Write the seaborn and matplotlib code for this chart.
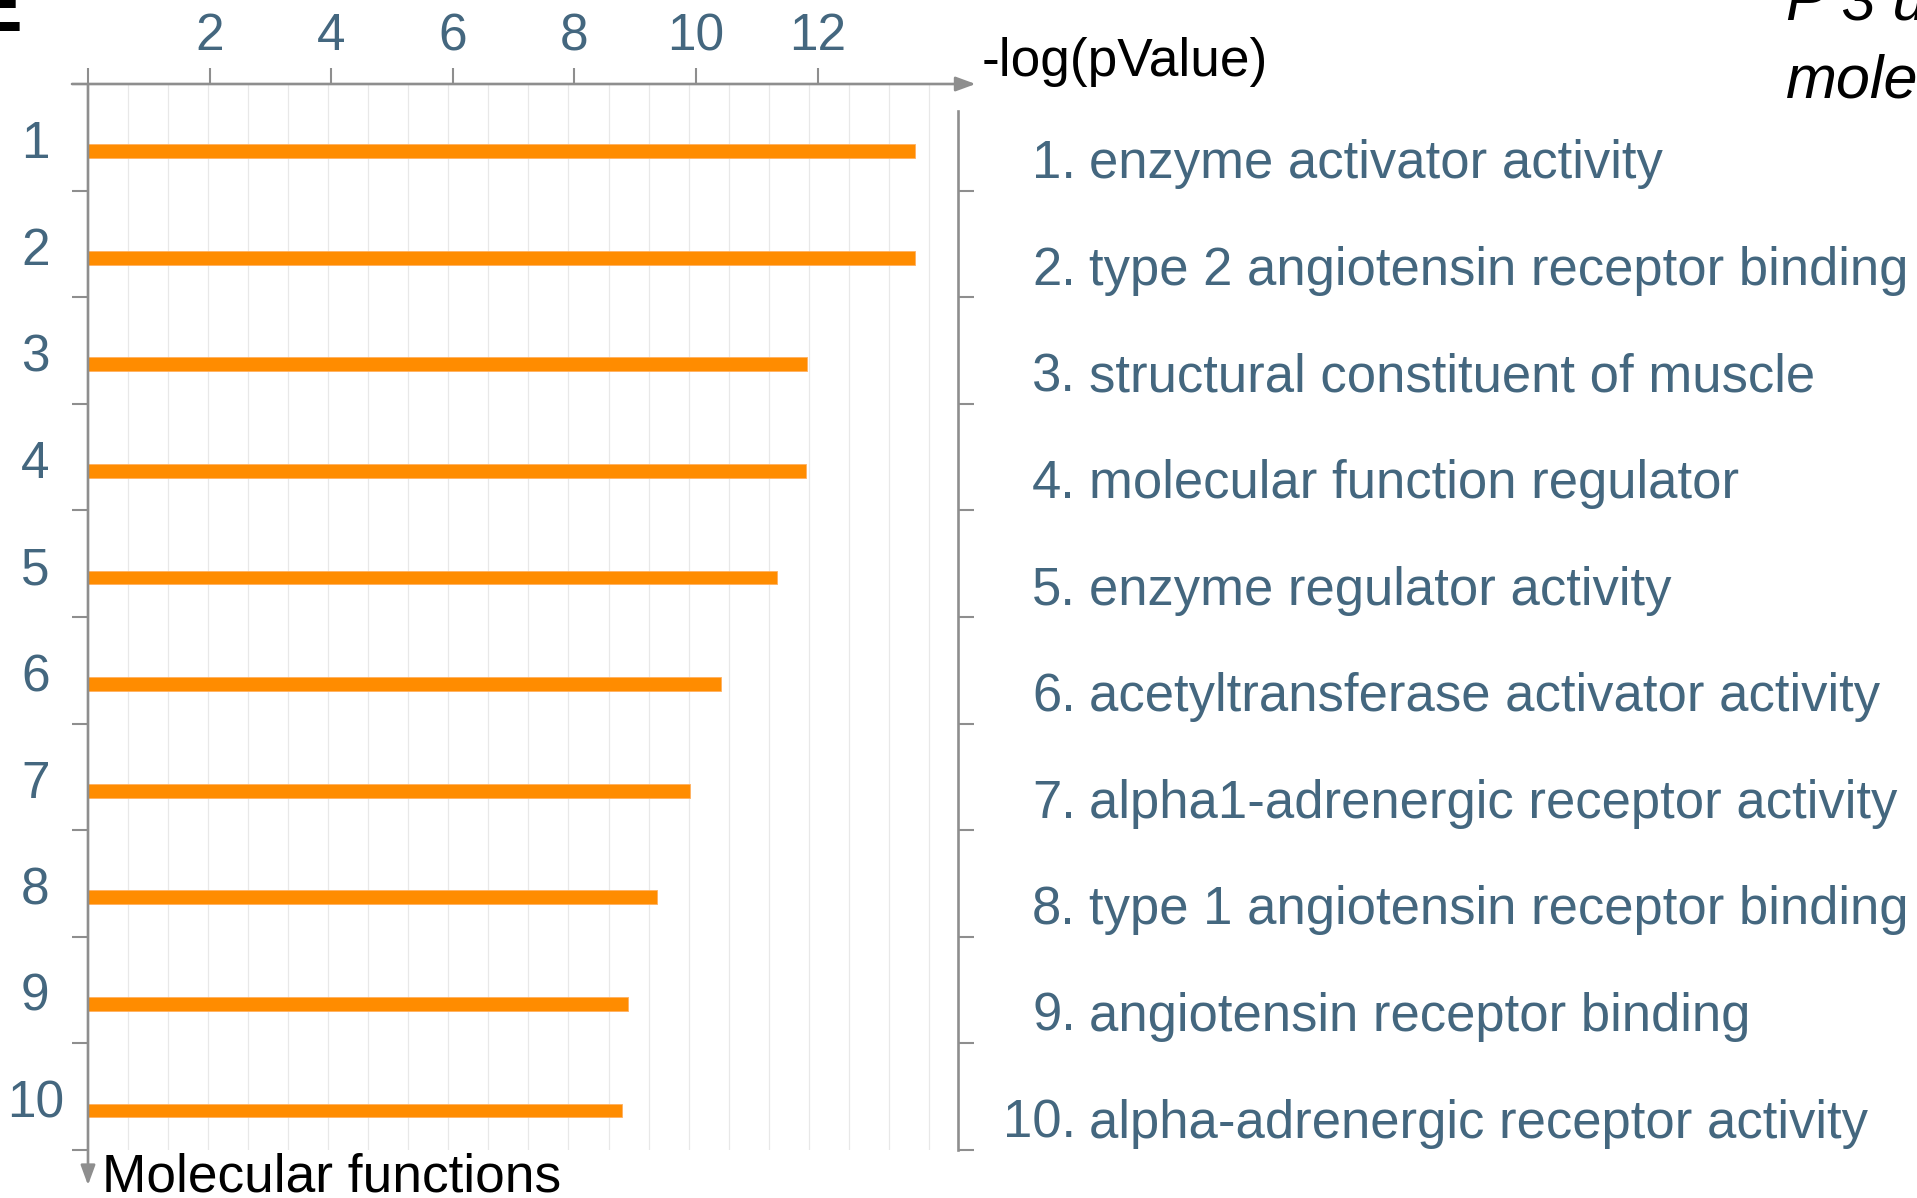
import numpy as np
import pandas as pd
import matplotlib
matplotlib.use("Agg")
import matplotlib.pyplot as plt
import seaborn as sns

# data
ranks = ["1", "2", "3", "4", "5", "6", "7", "8", "9", "10"]
terms = [
    "enzyme activator activity",
    "type 2 angiotensin receptor binding",
    "structural constituent of muscle",
    "molecular function regulator",
    "enzyme regulator activity",
    "acetyltransferase activator activity",
    "alpha1-adrenergic receptor activity",
    "type 1 angiotensin receptor binding",
    "angiotensin receptor binding",
    "alpha-adrenergic receptor activity",
]
neg_log_p = [13.60, 13.60, 11.83, 11.81, 11.34, 10.41, 9.91, 9.36, 8.88, 8.78]
xtick_vals = [0, 2, 4, 6, 8, 10, 12]
xtick_labels = ["", "2", "4", "6", "8", "10", "12"]

df = pd.DataFrame({"rank": ranks, "term": terms, "score": neg_log_p})

sns.set_style("white")
plt.rcParams['font.family'] = ['Liberation Sans', 'DejaVu Sans']

BLUE = "#44677f"
ORANGE = "#ff8c00"
GRAY = "#8e8e8e"
FS = 37      # numbers
FS_TXT = 38.3  # words
FS_TERM = 37.9

W, H, DPI = 1917, 1198, 100
fig = plt.figure(figsize=(W / DPI, H / DPI), dpi=DPI)

# plot box in pixels
x0, x1, y0, y1 = 88, 958, 84, 1150
ax = fig.add_axes([x0 / W, 1 - y1 / H, (x1 - x0) / W, (y1 - y0) / H])

XMAX = 14.31
for gx in np.arange(1, 22) * 13.83 / 21:
    ax.axvline(gx, color="#e8e8e8", lw=0.9, zorder=0)

sns.barplot(data=df, x="score", y="rank", order=ranks, orient="h",
            color=ORANGE, saturation=1, width=0.13, errorbar=None,
            edgecolor="#ffb060", linewidth=0.6, ax=ax, zorder=2)

ax.set_xlim(0, XMAX)
ax.set_ylim(9.37, -0.63)
ax.set_xlabel("")
ax.set_ylabel("")

for s in ["top", "left", "bottom"]:
    ax.spines[s].set_visible(False)
ax.spines["right"].set_color(GRAY)
ax.spines["right"].set_linewidth(1.9)
ax.spines["right"].set_bounds(-0.377, 9.37)

# top x axis
ax.xaxis.tick_top()
ax.set_xticks(xtick_vals)
ax.set_xticklabels(xtick_labels)
ax.tick_params(axis="x", which="major", direction="out", length=11.5,
               width=1.5, color=GRAY, labelsize=FS, labelcolor=BLUE, pad=5)

# row numbers on the left, row boundary ticks on both sides
ax.set_yticks([k + 0.066 for k in range(10)])
ax.set_yticklabels(ranks)
ax.set_yticks([k + 0.37 for k in range(10)], minor=True)
ax.tick_params(axis="y", which="major", length=0, pad=38, labelsize=FS,
               labelcolor=BLUE)
ax.tick_params(axis="y", which="minor", left=True, right=True,
               direction="out", length=11.5, width=1.5, color=GRAY)
for lab in ax.get_yticklabels():
    lab.set_horizontalalignment("center")
    lab.set_verticalalignment("baseline")

# axis lines with arrows
arrow = dict(arrowstyle="-|>,head_length=0.6,head_width=0.22",
             mutation_scale=20, color=GRAY, lw=1.9, shrinkA=0, shrinkB=0)
ax.annotate("", xy=(0, 9.7), xytext=(0, -0.63), arrowprops=arrow,
            annotation_clip=False)
ax.annotate("", xy=(14.6, -0.63), xytext=(-0.263, -0.63), arrowprops=arrow,
            annotation_clip=False)

# term names on the right
for k, term in enumerate(terms):
    ax.text(16.25, k + 0.253, f"{k + 1}.", ha="right", va="baseline",
            fontsize=FS_TERM, color=BLUE, clip_on=False)
    ax.text(16.46, k + 0.253, term, ha="left", va="baseline",
            fontsize=FS_TERM, color=BLUE, clip_on=False)

fig.text(982 / W, 1 - 76 / H, "-log(pValue)", ha="left", va="baseline",
         fontsize=FS_TXT, color="black")
fig.text(102 / W, 1 - 1192 / H, "Molecular functions", ha="left",
         va="baseline", fontsize=FS_TXT, color="black")
fig.text(1786 / W, 1 - 20 / H, "P 3 up", ha="left", va="baseline",
         fontsize=44, style="italic", color="black")
fig.text(1786 / W, 1 - 97 / H, "molecular", ha="left", va="baseline",
         fontsize=44, style="italic", color="black")
fig.text(-30 / W, 1 - 31 / H, "E", ha="left", va="baseline",
         fontsize=57, fontweight="bold", color="black")

fig.savefig("out.png", dpi=DPI)
